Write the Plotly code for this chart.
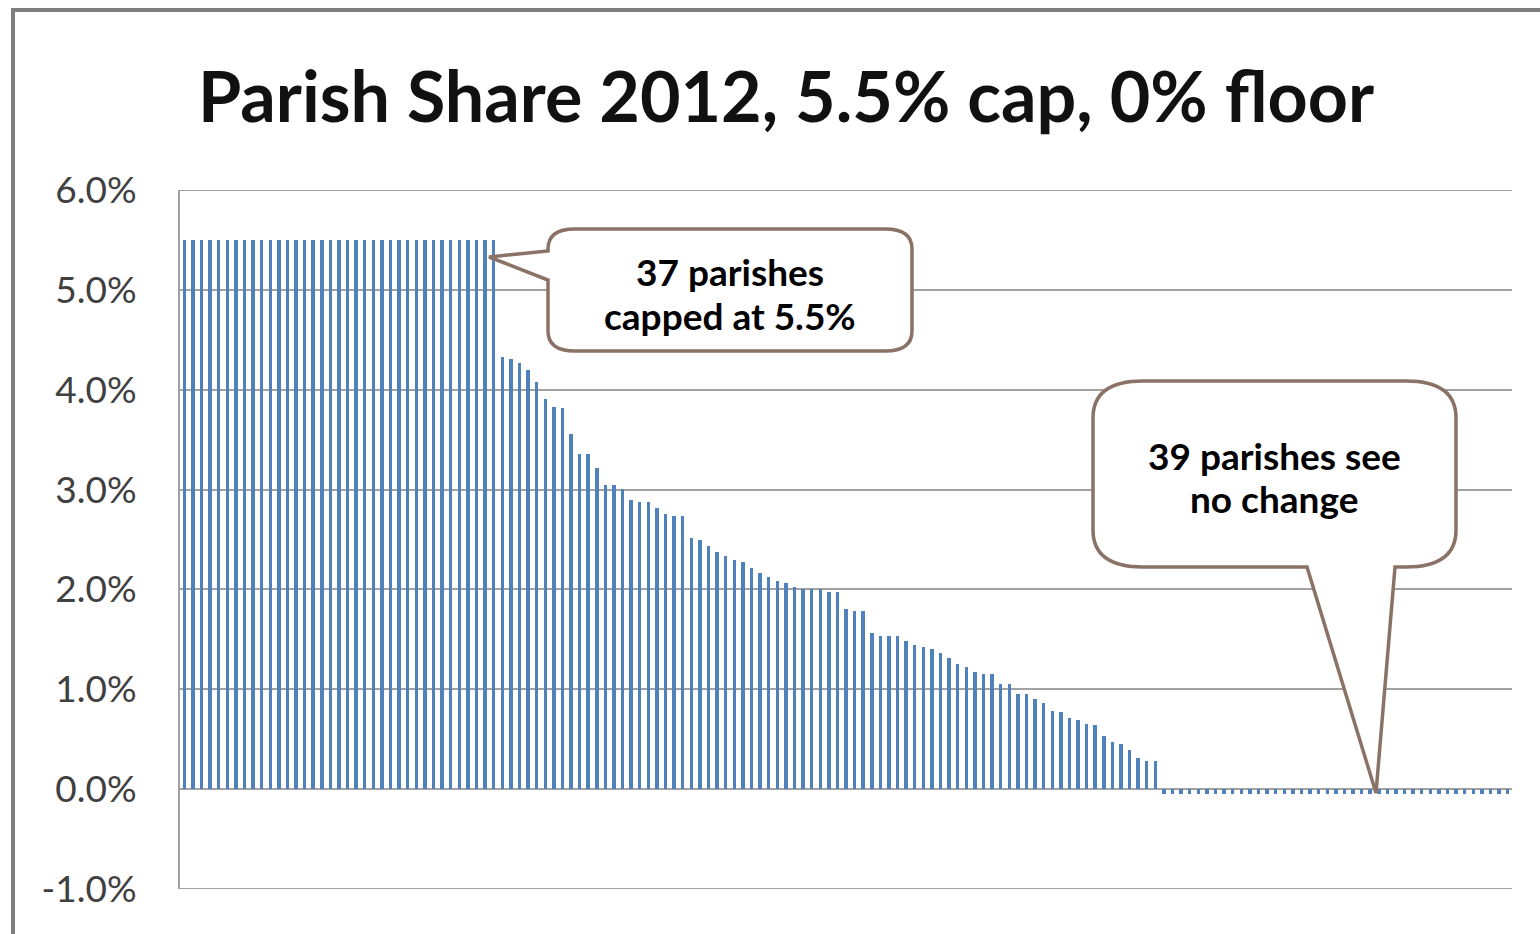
import plotly.graph_objects as go

# Parish share change per parish, percent, sorted from highest to lowest
capped_share = [5.5] * 37
tapering_share = [
    4.33, 4.31, 4.27, 4.20, 4.08, 3.91, 3.83, 3.82, 3.56, 3.36,
    3.36, 3.22, 3.05, 3.05, 3.01, 2.90, 2.88, 2.88, 2.82, 2.76,
    2.74, 2.74, 2.52, 2.50, 2.43, 2.37, 2.33, 2.29, 2.27, 2.21,
    2.16, 2.12, 2.08, 2.06, 2.02, 2.00, 2.00, 2.00, 1.97, 1.97,
    1.80, 1.78, 1.78, 1.56, 1.53, 1.53, 1.53, 1.48, 1.44, 1.42,
    1.40, 1.36, 1.31, 1.25, 1.22, 1.17, 1.15, 1.15, 1.05, 1.05,
    0.95, 0.95, 0.90, 0.86, 0.78, 0.77, 0.71, 0.69, 0.65, 0.64,
    0.53, 0.47, 0.45, 0.39, 0.31, 0.28, 0.28,
]
unchanged_share = [-0.05] * 41

share_values = capped_share + tapering_share + unchanged_share
parish_index = list(range(len(share_values)))

y_tick_values = [-1, 0, 1, 2, 3, 4, 5, 6]
y_tick_labels = ["-1.0%", "0.0%", "1.0%", "2.0%", "3.0%", "4.0%", "5.0%", "6.0%"]

title_text = "Parish Share 2012, 5.5% cap, 0% floor"
callout_cap_lines = ["37 parishes", "capped at 5.5%"]
callout_same_lines = ["39 parishes see", "no change"]

W, H = 1540, 934
PL, PR, PT, PB = 180, 1512, 190, 889
GRID = "#A2A2A2"


def paper_x(x):
    return (x - PL) / (PR - PL)


def paper_y(y):
    return (PB - y) / (PB - PT)


def to_path(cmds):
    out = []
    for cmd in cmds:
        op, pts = cmd[0], cmd[1:]
        coords = " ".join(f"{paper_x(x):.5f},{paper_y(y):.5f}" for x, y in pts)
        out.append(f"{op}{coords}")
    return " ".join(out) + " Z"


def callout_left(l, t, r, b, rx, ry, y_top, y_bot, tip):
    return to_path([
        ("M", (l + rx, t)), ("L", (r - rx, t)), ("Q", (r, t), (r, t + ry)),
        ("L", (r, b - ry)), ("Q", (r, b), (r - rx, b)), ("L", (l + rx, b)),
        ("Q", (l, b), (l, b - ry)), ("L", (l, y_bot)), ("L", tip),
        ("L", (l, y_top)), ("L", (l, t + ry)), ("Q", (l, t), (l + rx, t)),
    ])


def callout_bottom(l, t, r, b, rx, ry, x_left, x_right, tip):
    return to_path([
        ("M", (l + rx, t)), ("L", (r - rx, t)), ("Q", (r, t), (r, t + ry)),
        ("L", (r, b - ry)), ("Q", (r, b), (r - rx, b)), ("L", (x_right, b)),
        ("L", tip), ("L", (x_left, b)), ("L", (l + rx, b)),
        ("Q", (l, b), (l, b - ry)), ("L", (l, t + ry)), ("Q", (l, t), (l + rx, t)),
    ])


fig = go.Figure(
    go.Bar(
        x=parish_index,
        y=share_values,
        marker=dict(color="#4F81BD", line=dict(width=0)),
        width=0.4,
    )
)

# gridlines at the two ends of the value axis
for v in (y_tick_values[0], y_tick_values[-1]):
    fig.add_shape(type="line", xref="paper", yref="y", x0=0, x1=1, y0=v, y1=v,
                  layer="below", line=dict(color=GRID, width=2))

callout_line = dict(color="#8B7266", width=3.5)
fig.add_shape(type="path", xref="paper", yref="paper", layer="above",
              path=callout_left(548, 229, 912, 351, 27, 20, 251, 280, (489, 257)),
              line=callout_line, fillcolor="white")
fig.add_shape(type="path", xref="paper", yref="paper", layer="above",
              path=callout_bottom(1093, 381, 1456, 567, 50, 37, 1307, 1395, (1376, 793)),
              line=callout_line, fillcolor="white")

# outer chart frame
fig.add_shape(type="path", xref="paper", yref="paper", layer="above",
              path=f"M{paper_x(13):.5f},{paper_y(940):.5f} L{paper_x(13):.5f},{paper_y(10):.5f} "
                   f"L{paper_x(1545):.5f},{paper_y(10):.5f}",
              line=dict(color="#7F7F7F", width=4))

annotations = [
    dict(text=f"<b>{title_text}</b>", x=paper_x(786), y=paper_y(95),
         font=dict(family="Lato", size=70, color="#111111")),
]
for i, line in enumerate(callout_cap_lines):
    annotations.append(dict(text=f"<b>{line}</b>", x=paper_x(730), y=paper_y(271 + 44 * i),
                            font=dict(family="Lato", size=37, color="#000000")))
for i, line in enumerate(callout_same_lines):
    annotations.append(dict(text=f"<b>{line}</b>", x=paper_x(1274), y=paper_y(455 + 43 * i),
                            font=dict(family="Lato", size=37, color="#000000")))
for a in annotations:
    a.update(xref="paper", yref="paper", showarrow=False, xanchor="center", yanchor="middle")

fig.update_layout(
    width=W, height=H,
    margin=dict(l=PL, r=W - PR, t=PT, b=H - PB, pad=0),
    paper_bgcolor="white", plot_bgcolor="white",
    showlegend=False,
    bargap=0,
    annotations=annotations,
    xaxis=dict(range=[-0.5, len(share_values) - 0.5], showgrid=False, showticklabels=False,
               zeroline=False, showline=False, ticks=""),
    yaxis=dict(range=[-1, 6], tickvals=y_tick_values, ticktext=y_tick_labels,
               showgrid=True, gridcolor=GRID, gridwidth=2,
               zeroline=True, zerolinecolor=GRID, zerolinewidth=2,
               showline=True, linecolor=GRID, linewidth=2,
               ticks="", ticklabelstandoff=34,
               tickfont=dict(family="Lato", size=37, color="#404040")),
)

fig.write_html("out.html")
